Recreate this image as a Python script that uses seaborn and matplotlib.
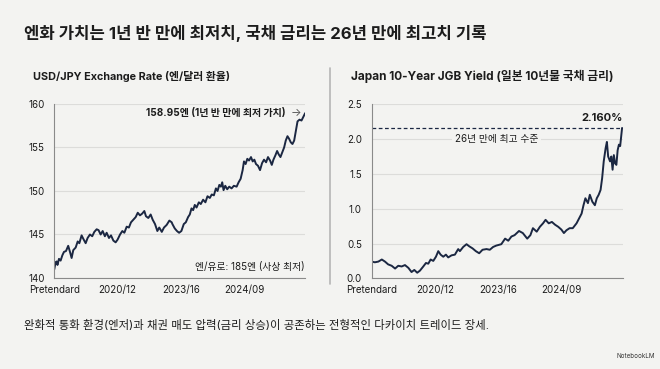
import numpy as np
import pandas as pd
import matplotlib
matplotlib.use("Agg")
import matplotlib.pyplot as plt
import seaborn as sns

# USD/JPY exchange rate
usd_x = [0.00, 0.02, 0.037, 0.05, 0.074, 0.10, 0.127, 0.153, 0.185, 0.22, 0.248, 0.274,
         0.30, 0.338, 0.37, 0.396, 0.432, 0.459, 0.496, 0.527, 0.564, 0.60, 0.633, 0.67,
         0.70, 0.733, 0.765, 0.80, 0.828, 0.865, 0.897, 0.934, 0.97, 1.00, 1.04, 1.076,
         1.108, 1.145, 1.18, 1.213, 1.25, 1.287, 1.32, 1.355, 1.39, 1.424, 1.45, 1.487,
         1.524, 1.556, 1.593, 1.63, 1.66, 1.70, 1.735, 1.777, 1.82, 1.857, 1.868, 1.905,
         1.94, 1.974, 2.01, 2.048, 2.08, 2.116, 2.143, 2.17, 2.196, 2.222, 2.25, 2.286,
         2.317, 2.354, 2.39, 2.423, 2.46, 2.49, 2.524, 2.556, 2.582, 2.61, 2.635, 2.656,
         2.677, 2.704, 2.735, 2.767, 2.804, 2.84, 2.884, 2.915, 2.947, 2.979, 3.00, 3.026,
         3.053, 3.08, 3.111, 3.138, 3.164, 3.19, 3.222, 3.254, 3.286, 3.317, 3.35, 3.38,
         3.413, 3.44, 3.466, 3.497, 3.524, 3.55, 3.577, 3.608, 3.635, 3.661, 3.688, 3.714,
         3.74, 3.767, 3.794, 3.82, 3.847, 3.878, 3.91, 3.937, 3.968]
usd_y = [141.0, 141.8, 141.9, 141.5, 142.2, 142.0, 142.6, 143.0, 143.1, 143.7, 143.0, 142.3,
         143.2, 143.5, 144.2, 144.0, 144.9, 144.5, 144.0, 144.6, 145.0, 144.8, 145.3, 145.6,
         145.5, 145.0, 145.4, 144.8, 145.2, 144.6, 144.9, 144.3, 144.1, 144.4, 145.0, 145.4,
         145.2, 145.9, 145.8, 146.4, 146.7, 147.0, 147.5, 147.2, 147.4, 147.7, 147.1, 146.9,
         147.3, 146.7, 146.2, 145.4, 145.8, 145.3, 145.8, 146.1, 146.6, 146.4, 146.2, 145.7,
         145.4, 145.2, 145.4, 146.2, 146.4, 147.0, 147.3, 148.0, 147.8, 148.4, 148.1, 148.7,
         148.5, 149.0, 148.7, 149.4, 149.2, 149.6, 149.5, 150.3, 150.0, 150.7, 150.5, 151.0,
         150.1, 150.6, 150.2, 150.5, 150.3, 150.6, 150.5, 151.0, 151.4, 152.4, 153.4, 153.1,
         153.7, 153.5, 153.9, 153.4, 153.6, 153.1, 152.9, 152.4, 153.2, 153.6, 153.3, 153.9,
         153.5, 153.0, 153.6, 154.1, 154.6, 154.2, 153.9, 154.5, 155.0, 155.8, 156.3, 156.0,
         155.6, 155.4, 155.8, 156.9, 158.0, 158.2, 158.1, 158.5, 158.95]

# Japan 10-year JGB yield
jgb_x = [0.00, 0.05, 0.105, 0.16, 0.21, 0.26, 0.316, 0.37, 0.42, 0.474, 0.526, 0.58,
         0.63, 0.674, 0.72, 0.763, 0.816, 0.858, 0.895, 0.932, 0.974, 1.016, 1.053, 1.09,
         1.132, 1.174, 1.21, 1.263, 1.316, 1.368, 1.395, 1.447, 1.50, 1.542, 1.595, 1.647,
         1.70, 1.753, 1.816, 1.868, 1.92, 1.97, 2.05, 2.11, 2.16, 2.21, 2.26, 2.33,
         2.39, 2.46, 2.51, 2.55, 2.61, 2.66, 2.71, 2.75, 2.80, 2.85, 2.90, 2.95,
         3.00, 3.04, 3.08, 3.13, 3.18, 3.24, 3.28, 3.32, 3.35, 3.38, 3.42, 3.45,
         3.49, 3.53, 3.56, 3.59, 3.62, 3.645, 3.67, 3.70, 3.72, 3.74, 3.77, 3.79,
         3.81, 3.83, 3.85, 3.87, 3.89, 3.91, 3.93, 3.96]
jgb_y = [0.24, 0.23, 0.24, 0.27, 0.24, 0.20, 0.18, 0.14, 0.18, 0.17, 0.19, 0.15,
         0.09, 0.12, 0.08, 0.11, 0.17, 0.22, 0.21, 0.27, 0.25, 0.31, 0.39, 0.34,
         0.31, 0.34, 0.30, 0.33, 0.34, 0.42, 0.39, 0.45, 0.49, 0.46, 0.43, 0.39,
         0.36, 0.41, 0.42, 0.41, 0.45, 0.47, 0.49, 0.57, 0.54, 0.60, 0.62, 0.68,
         0.65, 0.57, 0.62, 0.72, 0.67, 0.74, 0.79, 0.84, 0.79, 0.81, 0.77, 0.74,
         0.70, 0.65, 0.69, 0.72, 0.72, 0.79, 0.86, 0.93, 1.05, 1.15, 1.08, 1.20,
         1.10, 1.05, 1.15, 1.20, 1.27, 1.44, 1.68, 1.87, 1.96, 1.75, 1.68, 1.75,
         1.56, 1.77, 1.65, 1.63, 1.84, 1.92, 1.90, 2.16]

tick_pos = [0, 1, 2, 3]
tick_labels = ["Pretendard", "2020/12", "2023/16", "2024/09"]

title = "엔화 가치는 1년 반 만에 최저치, 국채 금리는 26년 만에 최고치 기록"
subtitle_l = "USD/JPY Exchange Rate (엔/달러 환율)"
subtitle_r = "Japan 10-Year JGB Yield (일본 10년물 국채 금리)"
footer = "완화적 통화 환경(엔저)과 채권 매도 압력(금리 상승)이 공존하는 전형적인 다카이치 트레이드 장세."

bg = "#f3f3f1"
navy = "#1b2742"
txt = "#1c1c1c"

sns.set_theme(style="whitegrid")
plt.rcParams["font.family"] = ["Inter", "Noto Sans CJK KR", "DejaVu Sans"]
plt.rcParams["axes.unicode_minus"] = False

fig = plt.figure(figsize=(6.6, 3.69), dpi=100, facecolor=bg)
ax1 = fig.add_axes([54.3 / 660, 91 / 369, 251 / 660, 174 / 369])
ax2 = fig.add_axes([371.7 / 660, 90.7 / 369, 251 / 660, 174 / 369])

df_usd = pd.DataFrame({"x": usd_x, "y": usd_y})
df_jgb = pd.DataFrame({"x": jgb_x, "y": jgb_y})
sns.lineplot(data=df_usd, x="x", y="y", ax=ax1, color=navy, linewidth=1.4)
sns.lineplot(data=df_jgb, x="x", y="y", ax=ax2, color=navy, linewidth=1.4)

for ax in (ax1, ax2):
    ax.set_facecolor(bg)
    ax.set_xlim(0, 3.97)
    ax.set_xlabel("")
    ax.set_ylabel("")
    ax.grid(axis="x", visible=False)
    ax.grid(axis="y", color="#dcdcda", linewidth=0.8)
    for s in ("top", "right"):
        ax.spines[s].set_visible(False)
    for s in ("left", "bottom"):
        ax.spines[s].set_color("#8a8a8a")
        ax.spines[s].set_linewidth(0.8)
    ax.set_xticks(tick_pos)
    ax.set_xticklabels(tick_labels)
    ax.tick_params(axis="x", length=3, width=0.7, color="#8a8a8a", pad=2,
                   labelsize=7, labelcolor=txt)
    ax.tick_params(axis="y", length=0, pad=7, labelsize=7, labelcolor=txt)

ax1.set_ylim(140, 160)
ax1.set_yticks([140, 145, 150, 155, 160])
ax2.set_ylim(0, 2.5)
ax2.set_yticks([0.0, 0.5, 1.0, 1.5, 2.0, 2.5])
ax2.set_yticklabels(["0.0", "0.5", "1.0", "1.5", "2.0", "2.5"])

# annotations, left
ax1.text(3.66, 158.95, "158.95엔 (1년 반 만에 최저 가치)", ha="right", va="center",
         fontsize=7.2, fontweight="bold", color=txt)
ax1.text(3.90, 158.95, "→", ha="right", va="center", fontsize=8, color="#555555")
ax1.text(0.997, 0.065, "엔/유로: 185엔 (사상 최저)", transform=ax1.transAxes,
         ha="right", va="center", fontsize=7, color=txt)

# annotations, right
ax2.axhline(2.16, color=navy, linestyle=(0, (3, 2)), linewidth=0.9)
ax2.text(3.965, 2.30, "2.160%", ha="right", va="center", fontsize=8,
         fontweight="bold", color=txt)
ax2.text(1.975, 2.0, "26년 만에 최고 수준", ha="center", va="center", fontsize=7,
         color=txt, bbox=dict(facecolor=bg, edgecolor="none", pad=2))

# titles and text
fig.text(24 / 660, 1 - 33 / 369, title, ha="left", va="center", fontsize=12,
         fontweight="bold", color=txt)
fig.text(33 / 660, 1 - 76 / 369, subtitle_l, ha="left", va="center", fontsize=7.8,
         fontweight="bold", color=txt)
fig.text(351 / 660, 1 - 76 / 369, subtitle_r, ha="left", va="center", fontsize=8.5,
         fontweight="bold", color=txt)
fig.text(24 / 660, 1 - 325 / 369, footer, ha="left", va="center", fontsize=8.2,
         color=txt)
fig.text(655 / 660, 1 - 356 / 369, "NotebookLM", ha="right", va="center", fontsize=4.5,
         color="#333333")

# divider between the two panels
fig.add_artist(plt.Line2D([329.5 / 660, 329.5 / 660], [1 - 68 / 369, 1 - 284 / 369],
                          color="#b5b5b5", linewidth=1.2))

fig.savefig("out.png", dpi=100, facecolor=bg)
